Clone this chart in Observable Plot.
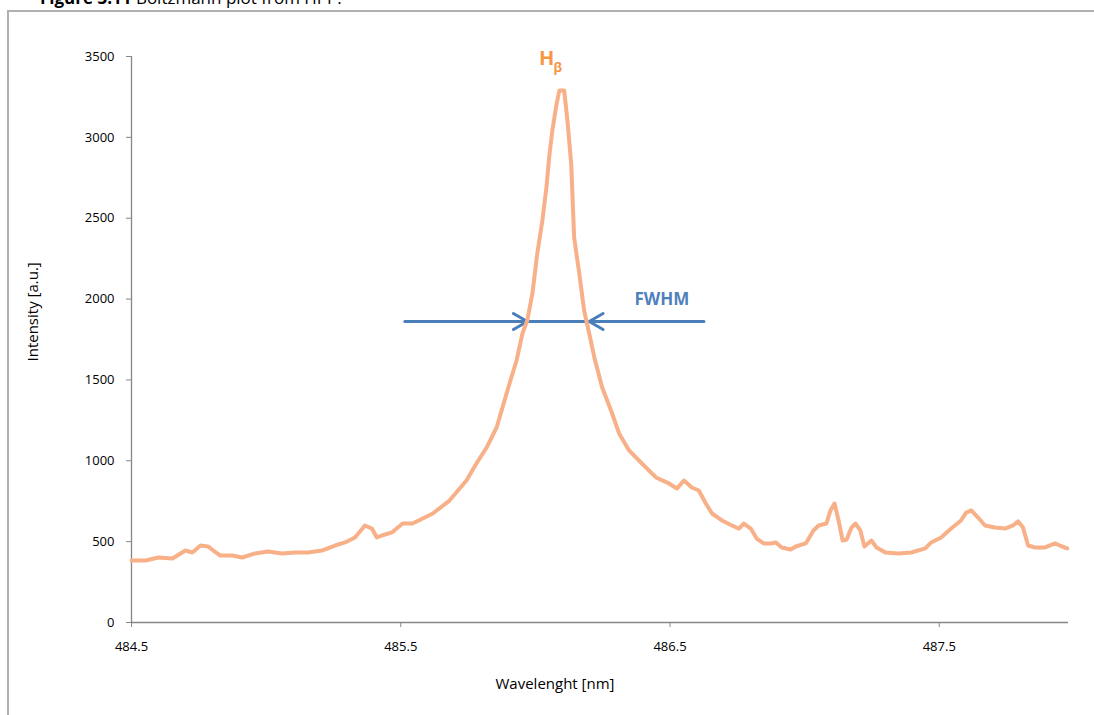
<!DOCTYPE html>
<html>
<head>
<meta charset="utf-8">
<script src="https://cdn.jsdelivr.net/npm/d3@7"></script>
<script src="https://cdn.jsdelivr.net/npm/@observablehq/plot@0.6"></script>
<style>
  html, body { margin: 0; padding: 0; background: #fff; width: 1094px; height: 715px; overflow: hidden; }
  #wrap { position: relative; width: 1094px; height: 715px; }
  #title { position: absolute; left: 40px; top: -11px; font-family: "Open Sans", sans-serif; font-size: 17px; line-height: 1; white-space: nowrap; color: #000; }
  #frame { position: absolute; left: 7px; top: 10px; width: 1100px; height: 720px; border-left: 2px solid #b0b0b0; border-top: 2px solid #b0b0b0; box-sizing: border-box; }
  #chart { position: absolute; left: 0; top: 0; }
</style>
</head>
<body>
<div id="wrap">
  <div id="title"><b>Figure 3.11</b> Boltzmann plot from HPP.</div>
  <div id="frame"></div>
  <div id="chart"></div>
</div>
<script>
// Spectrum
const wavelength = [
  484.500, 484.552, 484.600, 484.652, 484.700, 484.726, 484.756, 484.785, 484.804, 484.830,
  484.874, 484.911, 484.959, 485.007, 485.059, 485.107, 485.156, 485.207, 485.256, 485.293,
  485.330, 485.367, 485.393, 485.411, 485.430, 485.467, 485.507, 485.544, 485.619, 485.681,
  485.744, 485.781, 485.819, 485.856, 485.878, 485.904, 485.930, 485.952, 485.970, 485.989,
  486.007, 486.026, 486.041, 486.052, 486.063, 486.078, 486.089, 486.107, 486.119, 486.133,
  486.144, 486.163, 486.181, 486.200, 486.219, 486.248, 486.281, 486.311, 486.348, 486.396,
  486.448, 486.496, 486.526, 486.552, 486.581, 486.607, 486.633, 486.656, 486.693, 486.730,
  486.756, 486.774, 486.800, 486.822, 486.848, 486.874, 486.893, 486.915, 486.948, 486.967,
  487.004, 487.033, 487.052, 487.081, 487.096, 487.111, 487.126, 487.141, 487.156, 487.174,
  487.189, 487.207, 487.222, 487.248, 487.267, 487.300, 487.348, 487.396, 487.448, 487.470,
  487.507, 487.544, 487.581, 487.600, 487.619, 487.644, 487.670, 487.707, 487.744, 487.774,
  487.793, 487.811, 487.830, 487.856, 487.893, 487.930, 487.948, 487.975
];
const intensity = [
  383, 383, 402, 396, 445, 433, 476, 470, 445, 414,
  414, 402, 427, 439, 427, 433, 433, 445, 476, 495,
  526, 600, 581, 526, 538, 557, 612, 612, 674, 754,
  878, 983, 1082, 1206, 1330, 1478, 1620, 1787, 1868, 2035,
  2282, 2486, 2690, 2890, 3042, 3200, 3290, 3290, 3104, 2838,
  2381, 2158, 1929, 1787, 1639, 1453, 1311, 1169, 1064, 983,
  897, 860, 829, 878, 835, 816, 736, 674, 631, 600,
  581, 612, 581, 519, 489, 489, 495, 464, 451, 470,
  489, 569, 600, 612, 693, 736, 631, 507, 513, 587,
  612, 569, 470, 507, 464, 433, 427, 433, 458, 495,
  526, 581, 631, 680, 693, 649, 600, 587, 581, 600,
  625, 587, 476, 464, 464, 489, 476, 458
];
const xTicks = [484.5, 485.5, 486.5, 487.5];
const yTicks = [0, 500, 1000, 1500, 2000, 2500, 3000, 3500];

// Annotations
const peakLabel = ["H", "β"];
const peakLabelX = [486.042, 486.083];
const peakLabelY = [3488, 3430];
const fwhmLabel = ["FWHM"];
const fwhmLabelX = [486.47];
const fwhmLabelY = [1997];
const fwhmLevel = 1861;
const fwhmLeftStart = 485.515, fwhmLeftTip = 485.97;
const fwhmRightStart = 486.626, fwhmRightTip = 486.20;

const spectrum = wavelength.map((w, i) => ({w, v: intensity[i]}));
const arrows = [
  {x1: fwhmLeftStart, x2: fwhmLeftTip, y: fwhmLevel},
  {x1: fwhmRightStart, x2: fwhmRightTip, y: fwhmLevel}
];
const peakText = peakLabel.map((t, i) => ({t, x: peakLabelX[i], y: peakLabelY[i], s: i === 0 ? 20 : 13}));
const fwhmText = fwhmLabel.map((t, i) => ({t, x: fwhmLabelX[i], y: fwhmLabelY[i]}));

const axisGray = "#868686";
const font = "'Open Sans', sans-serif";
const chart = Plot.plot({
  width: 1094,
  height: 715,
  marginLeft: 131,
  marginRight: 26,
  marginTop: 56,
  marginBottom: 93,
  style: {fontFamily: font, fontSize: "13px", color: "#000", background: "transparent"},
  x: {domain: [484.5, 487.98]},
  y: {domain: [0, 3500]},
  marks: [
    Plot.axisY(yTicks, {tickSize: 5, tickPadding: 12, stroke: axisGray, fill: "#000", fontSize: 13, label: null, tickFormat: d => String(d)}),
    Plot.axisX(xTicks, {tickSize: 5, tickPadding: 14, stroke: axisGray, fill: "#000", fontSize: 13, label: null, tickFormat: d => d.toFixed(1)}),
    Plot.ruleX([484.5], {stroke: axisGray, strokeWidth: 1.3}),
    Plot.ruleY([0], {stroke: axisGray, strokeWidth: 1.3}),
    Plot.text(["Intensity [a.u.]"], {frameAnchor: "left", rotate: -90, dx: -98, dy: 22, fontSize: 15}),
    Plot.text(["Wavelenght [nm]"], {frameAnchor: "bottom", dx: -45, dy: 66, fontSize: 15}),
    Plot.ruleY([fwhmLevel], {x1: fwhmLeftTip, x2: fwhmRightTip, stroke: "#4A7EBB", strokeWidth: 3}),
    Plot.arrow(arrows, {x1: "x1", x2: "x2", y1: "y", y2: "y", stroke: "#4A7EBB", strokeWidth: 3, headLength: 8, headAngle: 60}),
    Plot.line(spectrum, {x: "w", y: "v", stroke: "#F8B088", strokeWidth: 4, strokeLinejoin: "round", strokeLinecap: "round"}),
    Plot.text(peakText, {x: "x", y: "y", text: "t", fontSize: "s", fontWeight: "bold", fill: "#F79646", fontFamily: font}),
    Plot.text(fwhmText, {x: "x", y: "y", text: "t", fontSize: 17, fontWeight: "bold", fill: "#4F81BD", fontFamily: font})
  ]
});
document.getElementById("chart").appendChild(chart);
</script>
</body>
</html>
